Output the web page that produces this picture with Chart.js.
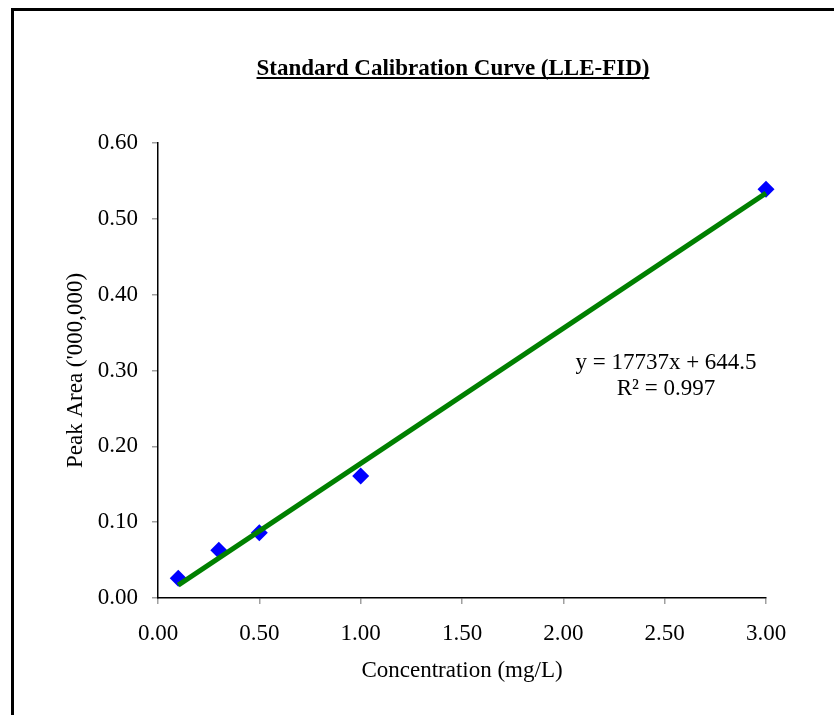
<!DOCTYPE html>
<html lang="en">
<head>
  <meta charset="UTF-8" />
  <title>Standard Calibration Curve (LLE-FID)</title>
  <script src="https://cdn.jsdelivr.net/npm/chart.js"></script>
  <style>
    html, body { margin: 0; padding: 0; background: #fff; overflow: hidden; }
    #frame {
      position: absolute; left: 11px; top: 8px; width: 900px; height: 800px;
      border-left: 3px solid #000; border-top: 3px solid #000;
    }
    #chartCanvas { position: absolute; left: 0; top: 0; }
  </style>
</head>
<body>

<div id="frame"></div>
<canvas id="chartCanvas" width="834" height="715"></canvas>

<script>
// data
const concentration = [0.1, 0.3, 0.5, 1.0, 3.0];
const peakArea = [0.026, 0.063, 0.086, 0.161, 0.539];
// linear trendline end points
const trendX = [0.1, 3.0];
const trendY = [0.017, 0.534];

const chartTitle = 'Standard Calibration Curve (LLE-FID)';
const equationLines = ['y = 17737x + 644.5', 'R\u00B2 = 0.997'];
const xTitle = 'Concentration (mg/L)';
const yTitle = "Peak Area ('000,000)";

const serif = '"Liberation Serif", "Times New Roman", serif';

// title + trendline equation, drawn on the canvas
const textPlugin = {
  id: 'texts',
  afterDraw(chart) {
    const ctx = chart.ctx;
    ctx.save();
    ctx.fillStyle = '#000';
    ctx.textAlign = 'center';
    ctx.textBaseline = 'alphabetic';
    ctx.font = 'bold 23px ' + serif;
    ctx.fillText(chartTitle, 453, 75);
    const w = ctx.measureText(chartTitle).width;
    ctx.fillRect(453 - w / 2, 77, w, 2);

    ctx.font = '23px ' + serif;
    ctx.fillText(equationLines[0], 666, 369);
    ctx.fillText(equationLines[1], 666, 395);
    ctx.restore();
  }
};

const tickFmt = v => Number(v).toFixed(2);

new Chart(document.getElementById('chartCanvas'), {
  type: 'scatter',
  data: {
    datasets: [
      {
        type: 'line',
        label: 'Linear',
        data: trendX.map((x, i) => ({ x: x, y: trendY[i] })),
        borderColor: '#008000',
        borderWidth: 5,
        pointRadius: 0,
        fill: false,
        clip: false,
        order: 0
      },
      {
        label: 'Peak Area',
        data: concentration.map((x, i) => ({ x: x, y: peakArea[i] })),
        pointStyle: 'rectRot',
        pointRadius: 8.5,
        pointHoverRadius: 8.5,
        backgroundColor: '#0000ff',
        borderColor: '#0000ff',
        borderWidth: 0,
        clip: false,
        order: 1
      }
    ]
  },
  options: {
    responsive: false,
    animation: false,
    layout: { padding: { left: 0, top: 143, right: 68, bottom: 0 } },
    plugins: {
      legend: { display: false },
      tooltip: { enabled: false }
    },
    scales: {
      x: {
        type: 'linear',
        min: 0, max: 3,
        afterFit: s => { s.height = 117; },
        border: { display: true, color: '#000', width: 1.5 },
        grid: { drawOnChartArea: false, color: '#a0a0a0', tickLength: 6, lineWidth: 1.5 },
        ticks: { stepSize: 0.5, callback: tickFmt, color: '#000', padding: 16,
                 font: { family: serif, size: 23 }, maxRotation: 0 },
        title: { display: true, text: xTitle, color: '#000', padding: 30,
                 font: { family: serif, size: 23 } }
      },
      y: {
        min: 0, max: 0.6,
        afterFit: s => { s.width = 158; },
        border: { display: true, color: '#000', width: 1.5 },
        grid: { drawOnChartArea: false, color: '#a0a0a0', tickLength: 6, lineWidth: 1.5 },
        ticks: { stepSize: 0.1, callback: tickFmt, color: '#000', padding: 14,
                 font: { family: serif, size: 23 } },
        title: { display: true, text: yTitle, color: '#000', padding: 62,
                 font: { family: serif, size: 23 } }
      }
    }
  },
  plugins: [textPlugin]
});
</script>

</body>
</html>
